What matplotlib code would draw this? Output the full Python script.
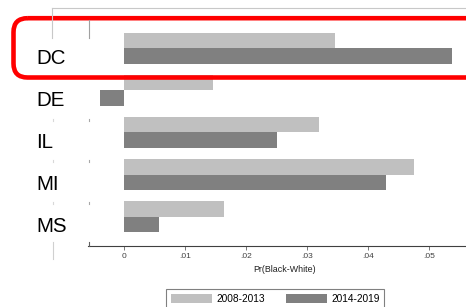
import matplotlib

matplotlib.use("Agg")
import matplotlib.pyplot as plt
from matplotlib import transforms
from matplotlib.patches import FancyBboxPatch, Patch

plt.rcParams["font.family"] = ["Liberation Sans", "DejaVu Sans"]

# 데이터
states = ["DC", "DE", "IL", "MI", "MS"]
early = [0.0345, 0.0145, 0.0319, 0.0475, 0.0164]   # 2008-2013
late = [0.0537, -0.0040, 0.0251, 0.0429, 0.0057]   # 2014-2019
series_names = ["2008-2013", "2014-2019"]
xticks = [0, 0.01, 0.02, 0.03, 0.04, 0.05]
xtick_labels = ["0", ".01", ".02", ".03", ".04", ".05"]

LIGHT = "#c0c0c0"
DARK = "#808080"
W, H = 466, 307

fig = plt.figure(figsize=(W / 100, H / 100), dpi=100)
fig.patch.set_facecolor("white")

ax = fig.add_axes((88.3 / W, 1 - 245.7 / H, (480 - 88.3) / W, (245.7 - 8) / H))
ax.set_facecolor("none")

pos = list(range(len(states)))
bh = 0.371
ax.barh([p - bh / 2 for p in pos], early, height=bh, color=LIGHT, edgecolor="none")
ax.barh([p + bh / 2 for p in pos], late, height=bh, color=DARK, edgecolor="none")

ax.set_xlim(-0.0059, (480 - 124.3) / 6100)
ax.set_ylim(4.695, -0.964)
ax.set_yticks([])
for s in ("left", "top", "right"):
    ax.spines[s].set_visible(False)
ax.spines["bottom"].set_color("#404040")
ax.spines["bottom"].set_linewidth(0.8)
ax.set_xticks(xticks, xtick_labels)
ax.tick_params(axis="x", length=3, width=0.6, color="#606060",
               labelsize=6, labelcolor="#404040", pad=2.5)
ax.set_xlabel("Pr(Black-White)", fontsize=6.4, color="#202020", labelpad=3)

# 주 이름 (왼쪽 큰 글씨)
trans = transforms.blended_transform_factory(fig.transFigure, ax.transData)
for p, name in zip(pos, states):
    ax.text(36 / W, p + 0.375, name, transform=trans, ha="left", va="baseline",
            fontsize=14.8, color="black")

# 범례
handles = [Patch(facecolor=LIGHT, edgecolor="none"), Patch(facecolor=DARK, edgecolor="none")]
leg = fig.legend(handles, series_names, loc="upper center", bbox_to_anchor=(275.3 / W, 1 - 289.3 / H),
                 ncol=2, fontsize=7.3, frameon=True, fancybox=False, handlelength=4.0,
                 handleheight=1.0, handletextpad=0.45, columnspacing=2.1, borderpad=0.45,
                 borderaxespad=0)
leg.get_frame().set_edgecolor("#606060")
leg.get_frame().set_linewidth(0.8)

# 스크린샷 테두리 잔여선 + 빨간 강조 박스 (픽셀 좌표 오버레이)
ov = fig.add_axes((0, 0, 1, 1), zorder=5)
ov.set_xlim(0, W)
ov.set_ylim(H, 0)
ov.axis("off")
ov.patch.set_alpha(0)
ov.plot([52.3, W], [8, 8], color="#c8c8c8", lw=0.8)
ov.plot([52.3, 52.3], [8, 38.3], color="#c8c8c8", lw=0.8)
ov.plot([88.6, 88.6], [20, 38.3], color="#a0a0a0", lw=0.8)
ov.plot([52.7, 52.7], [241.7, 259], color="#d0d0d0", lw=0.8)
ov.plot([88.6, 88.6], [242, 246], color="#606060", lw=0.8)
for yy in (120, 161, 202.7):
    ov.plot([52.7, 52.7], [yy - 1, yy + 1], color="#d8d8d8", lw=0.8)
    ov.plot([89, 89], [yy - 1, yy + 1], color="#a8a8a8", lw=0.8)
ov.add_patch(FancyBboxPatch((13.5, 18.2), 480 - 13.5, 77.5 - 18.2,
                            boxstyle="round,pad=0,rounding_size=14",
                            facecolor="none", edgecolor="#ff0000", lw=3.3))

fig.savefig("out.png", dpi=100, facecolor="white")
